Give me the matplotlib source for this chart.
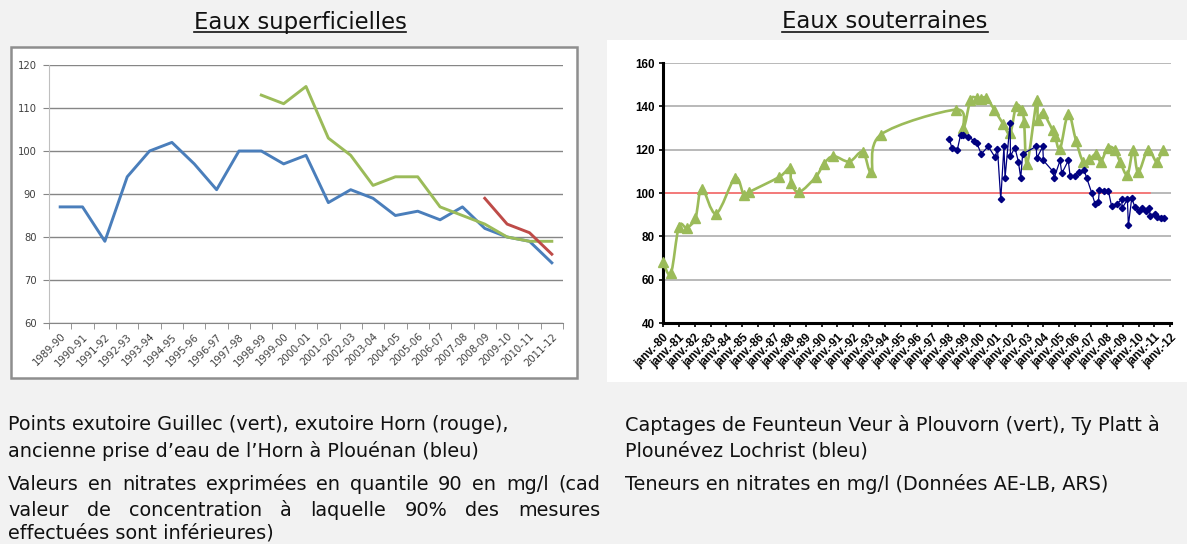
import matplotlib
matplotlib.use("Agg")
import matplotlib.pyplot as plt
import numpy as np
from matplotlib.patches import Rectangle, PathPatch
from matplotlib.path import Path
from matplotlib.lines import Line2D

# ---------------- data ----------------
seasons = ["1989-90", "1990-91", "1991-92", "1992-93", "1993-94", "1994-95", "1995-96",
           "1996-97", "1997-98", "1998-99", "1999-00", "2000-01", "2001-02", "2002-03",
           "2003-04", "2004-05", "2005-06", "2006-07", "2007-08", "2008-09", "2009-10",
           "2010-11", "2011-12"]
horn_prise_bleu = [87, 87, 79, 94, 100, 102, 97, 91, 100, 100, 97, 99, 88, 91, 89, 85, 86,
                   84, 87, 82, 80, 79, 74]
guillec_vert = [None] * 9 + [113, 111, 115, 103, 99, 92, 94, 94, 87, 85, 83, 80, 79, 79]
horn_rouge = [None] * 19 + [89, 83, 81, 76]

feunteun_dates = [1980.0, 1980.5, 1981.0, 1981.5, 1982.05, 1982.45, 1983.35, 1984.55, 1985.1,
                  1985.45, 1987.35, 1988.0, 1988.1, 1988.6, 1989.65, 1990.15, 1990.75, 1991.75,
                  1992.6, 1993.15, 1993.75, 1998.5, 1998.95, 1999.4, 1999.8, 2000.05, 2000.4,
                  2000.9, 2001.45, 2001.9, 2002.27, 2002.63, 2002.78, 2002.97, 2003.58, 2003.65,
                  2003.96, 2004.58, 2004.72, 2005.05, 2005.57, 2006.06, 2006.5, 2006.9, 2007.32,
                  2007.63, 2008.06, 2008.5, 2008.83, 2009.3, 2009.67, 2009.98, 2010.6, 2011.14,
                  2011.53]
feunteun_vals = [68, 63, 84.5, 84, 88.5, 102, 90.5, 107, 99, 100.5, 107.5, 111.5, 104.5, 100.5,
                 107.5, 113.5, 117, 114.5, 119, 109.5, 127, 138.5, 130, 143, 144, 143.5, 144,
                 138.5, 132, 127.5, 140, 138.5, 133, 113.5, 143, 133.5, 137, 129, 126.5, 120.5,
                 136.5, 124, 114.5, 115.5, 118, 114.5, 121, 120, 114.5, 108.5, 120, 109.5, 120,
                 114.5, 120]

typlatt_dates = [1998.06, 1998.22, 1998.57, 1998.78, 1998.95, 1999.27, 1999.65, 1999.8, 2000.08,
                 2000.52, 2000.95, 2001.1, 2001.31, 2001.51, 2001.58, 2001.9, 2001.92, 2002.2,
                 2002.42, 2002.57, 2002.69, 2003.55, 2003.58, 2003.96, 2004.0, 2004.6, 2004.68,
                 2005.05, 2005.16, 2005.57, 2005.68, 2006.0, 2006.22, 2006.57, 2006.73, 2007.05,
                 2007.26, 2007.47, 2007.53, 2007.83, 2008.1, 2008.3, 2008.63, 2008.94, 2008.97,
                 2009.3, 2009.36, 2009.57, 2009.78, 2010.05, 2010.2, 2010.47, 2010.69, 2010.73,
                 2011.04, 2011.15, 2011.4, 2011.61]
typlatt_vals = [125, 121, 120, 127, 127, 126, 124, 123, 118, 121.5, 116.5, 120.5, 97, 121.5,
                107, 132.5, 117, 121, 114.5, 107, 118, 121.5, 116, 121.5, 115, 110, 107, 115,
                109, 115, 108, 108, 109.5, 110.5, 107, 100, 95, 96, 101.5, 101, 101, 94, 95,
                97, 93, 97, 85, 97.5, 93.5, 91.5, 93, 91.5, 93, 89.5, 90.5, 89, 88.5, 88.5]

threshold = 100
threshold_end = 2010.75
year_ticks = list(range(1980, 2013))
year_labels = ["janv.-%02d" % (y % 100) for y in year_ticks]

# ---------------- figure ----------------
W, H = 1187, 544
fig = plt.figure(figsize=(W / 100, H / 100), dpi=100)
fig.patch.set_facecolor('#F2F2F2')


def fx(px):
    return px / W


def fy(py):
    return 1 - py / H


fig.patches.append(Rectangle((fx(11), fy(378)), fx(577) - fx(11), fy(47) - fy(378),
                             transform=fig.transFigure, facecolor='white',
                             edgecolor='#8E8E8E', linewidth=1.8, zorder=-5))
fig.patches.append(Rectangle((fx(607), fy(382)), fx(1187) - fx(607), fy(40) - fy(382),
                             transform=fig.transFigure, facecolor='white',
                             edgecolor='none', zorder=-5))

renderer = fig.canvas.get_renderer()


def underlined_title(x, y, s, size):
    t = fig.text(fx(x), fy(y), s, ha='center', va='center', fontsize=size,
                 family='DejaVu Sans', color='#111111')
    bb = t.get_window_extent(renderer=renderer)
    ybase = bb.y0 + 1.5
    fig.add_artist(Line2D([bb.x0 / W, bb.x1 / W], [ybase / H, ybase / H],
                          transform=fig.transFigure, color='#111111', lw=1.2))


underlined_title(300, 22, "Eaux superficielles", 16.4)
underlined_title(885, 22, "Eaux souterraines", 16.4)

# ---------------- left chart ----------------
ax1 = fig.add_axes([fx(49), fy(323), fx(563) - fx(49), fy(65) - fy(323)])
ax1.set_facecolor('none')
xs = np.arange(len(seasons))


def series(vals):
    return np.array([np.nan if v is None else v for v in vals], dtype=float)


ax1.plot(xs, series(horn_prise_bleu), color='#4A7EBB', lw=2.1, solid_joinstyle='round', zorder=3)
ax1.plot(xs, series(guillec_vert), color='#9BBB59', lw=2.1, solid_joinstyle='round', zorder=4)
ax1.plot(xs, series(horn_rouge), color='#BE4B48', lw=2.1, solid_joinstyle='round', zorder=5)
ax1.set_xlim(-0.5, len(seasons) - 0.5)
ax1.set_ylim(60, 120)
ax1.set_yticks(range(60, 121, 10))
ax1.yaxis.grid(True, color='#868686', lw=1)
ax1.set_axisbelow(True)
for s in ['top', 'right']:
    ax1.spines[s].set_visible(False)
ax1.spines['left'].set_color('#BFBFBF')
ax1.spines['bottom'].set_color('#868686')
ax1.set_xticks(xs)
ax1.set_xticklabels(seasons, rotation=45, ha='right', va='top', rotation_mode='anchor',
                    fontsize=7.2, color='#404040')
ax1.set_xticks(np.arange(-0.5, len(seasons), 1), minor=True)
ax1.tick_params(axis='x', which='major', length=0, pad=6)
ax1.tick_params(axis='x', which='minor', length=4, color='#868686', direction='out')
ax1.tick_params(axis='y', length=4, color='#868686', labelsize=7.2, labelcolor='#404040', pad=5)

# ---------------- right chart ----------------
ax2 = fig.add_axes([fx(663), fy(323), fx(1171) - fx(663), fy(63) - fy(323)])
ax2.set_facecolor('none')
ax2.set_xlim(1980, 2012.05)
ax2.set_ylim(40, 160)
ax2.set_yticks(range(40, 161, 20))
ax2.yaxis.grid(True, color='#A6A6A6', lw=1.1)
ax2.set_axisbelow(True)
for s in ['top', 'right']:
    ax2.spines[s].set_visible(False)
for s in ['left', 'bottom']:
    ax2.spines[s].set_color('black')
    ax2.spines[s].set_linewidth(2.2)
ax2.set_xticks(year_ticks)
ax2.set_xticklabels(year_labels, rotation=45, ha='right', va='top', rotation_mode='anchor',
                    fontsize=8.3, fontweight='bold', family='Liberation Sans')
ax2.tick_params(axis='x', length=3, width=1.2, pad=3)
ax2.tick_params(axis='y', length=3, width=1.2, labelsize=8.4, pad=3)
for lab in ax2.get_yticklabels():
    lab.set_fontweight('bold')
    lab.set_family('Liberation Sans')

ax2.plot([1980, threshold_end], [threshold, threshold], color='#FF7070', lw=1.2, zorder=2)

# smooth (Excel-like) green curve
fig.canvas.draw()
pts = ax2.transData.transform(np.column_stack([feunteun_dates, feunteun_vals]))
n = len(pts)
verts = [pts[0]]
codes = [Path.MOVETO]
for i in range(n - 1):
    p0 = pts[i - 1] if i > 0 else pts[i]
    p1 = pts[i]
    p2 = pts[i + 1]
    p3 = pts[i + 2] if i + 2 < n else pts[i + 1]
    c1 = p1 + (p2 - p0) / 6.0
    c2 = p2 - (p3 - p1) / 6.0
    verts += [c1, c2, p2]
    codes += [Path.CURVE4] * 3
verts = ax2.transData.inverted().transform(np.array(verts))
ax2.add_patch(PathPatch(Path(verts, codes), facecolor='none', edgecolor='#9BBB59', lw=1.9,
                        zorder=4, clip_on=False))
ax2.plot(feunteun_dates, feunteun_vals, ls='none', marker='^', ms=6.6, color='#9BBB59',
         zorder=5, clip_on=False)
ax2.plot(typlatt_dates, typlatt_vals, color='#000080', lw=0.9, marker='D', ms=3.2, zorder=6)

# ---------------- captions ----------------
CAP = 13.9


def justified(words, x0, x1, y, size):
    ts = [fig.text(0, fy(y), w, fontsize=size, va='center', ha='left', family='DejaVu Sans',
                   color='#111111') for w in words]
    widths = [t.get_window_extent(renderer=renderer).width for t in ts]
    gap = ((x1 - x0) - sum(widths)) / (len(words) - 1)
    x = x0
    for t, w in zip(ts, widths):
        t.set_x(fx(x))
        x += w + gap


def line(x, y, s, size):
    fig.text(fx(x), fy(y), s, fontsize=size, va='center', ha='left', family='DejaVu Sans',
             color='#111111')


line(8, 425, "Points exutoire Guillec (vert), exutoire Horn (rouge),", CAP)
line(8, 451, "ancienne prise d\u2019eau de l\u2019Horn à Plouénan (bleu)", CAP)
justified("Valeurs en nitrates exprimées en quantile 90 en mg/l (cad".split(), 8, 600, 484, CAP)
justified("valeur de concentration à laquelle 90% des mesures".split(), 8, 600, 510, CAP)
line(8, 533, "effectuées sont inférieures)", CAP)

line(625, 425, "Captages de Feunteun Veur à Plouvorn (vert), Ty Platt à", CAP)
line(625, 451, "Plounévez Lochrist (bleu)", CAP)
line(625, 484, "Teneurs en nitrates en mg/l (Données AE-LB, ARS)", CAP)

fig.savefig("out.png", dpi=100, facecolor=fig.get_facecolor())
